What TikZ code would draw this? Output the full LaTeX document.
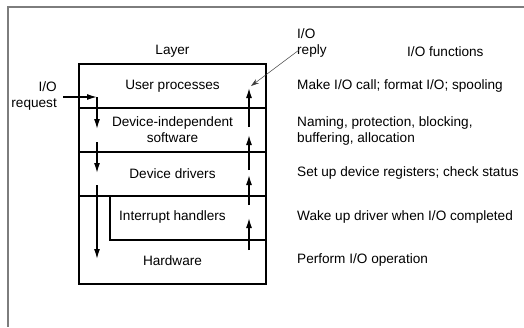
\documentclass[tikz,border=0pt]{standalone}
\usepackage{fontspec}
\setmainfont{Liberation Sans}
\usetikzlibrary{arrows.meta,positioning}
\tikzset{every node/.append style={align=center}}
\definecolor{framegray}{RGB}{125,125,125}
\definecolor{replygray}{RGB}{60,60,60}

\begin{document}
\begin{tikzpicture}[
    x=1pt, y=-1pt,
    font=\fontsize{13.6}{16}\selectfont,
    layer/.style={draw, line width=1.2pt, minimum width=187pt, minimum height=44pt, inner sep=0pt},
    lbl/.style={inner sep=0pt},
    func/.style={inner sep=0pt, anchor=west, align=left},
    flow/.style={-{Latex[length=10pt,width=6pt]}, line width=1.4pt},
    replyarrow/.style={-{Stealth[length=8pt,width=5pt]}, line width=0.5pt, replygray}
]
    \useasboundingbox (0,0) rectangle (524,327);

    % Frame
    \draw[framegray, line width=1.3pt] (524,7) -- (8,7) -- (8,327);

    % Layers
    \node[layer] (user) at (172.5,86) {User processes};
    \node[layer] (devind) at (172.5,130) {Device-independent\\software};
    \node[layer] (drivers) at (172.5,174) {Device drivers};
    \node[layer, minimum height=88pt] (lower) at (172.5,240) {};
    \node[layer, minimum width=156pt] (intrbox) at (188,218) {};
    \node[lbl] (intr) at (172.5,217) {Interrupt handlers};
    \node[lbl] (hw) at (172.5,261) {Hardware};

    % Headings
    \node[lbl] (layerhead) at (172.5,51) {Layer};
    \node[func] (funchead) at (407,52) {I/O functions};

    % Functions
    \node[func] (fuser) at (297,86) {Make I/O call; format I/O; spooling};
    \node[func] (fdevind) at (297,131) {Naming, protection, blocking,\\buffering, allocation};
    \node[func] (fdrivers) at (297,173) {Set up device registers; check status};
    \node[func] (fintr) at (297,217) {Wake up driver when I/O completed};
    \node[func] (fhw) at (297,260) {Perform I/O operation};

    % Side labels
    \node[lbl, anchor=east, align=right] (req) at (57,96) {I/O\\request};
    \node[func] (reply) at (297,43) {I/O\\reply};

    % Arrow points
    \coordinate (r0) at (63,97);
    \coordinate (d0) at (97,97);
    \coordinate (d1) at (97,129);
    \coordinate (d2) at (97,142);
    \coordinate (d3) at (97,173);
    \coordinate (d4) at (97,185);
    \coordinate (d5) at (97,259);
    \coordinate (u0) at (249,250);
    \coordinate (u1) at (249,218);
    \coordinate (u2) at (249,205);
    \coordinate (u3) at (249,175);
    \coordinate (u4) at (249,170);
    \coordinate (u5) at (249,135);
    \coordinate (u6) at (249,127);
    \coordinate (u7) at (249,88);
    \coordinate (q0) at (299,50);
    \coordinate (q1) at (251,86);

    % Arrows
    \draw[flow] (r0) -- (d0);
    \foreach \a/\b in {d0/d1, d2/d3, d4/d5, u0/u1, u2/u3, u4/u5, u6/u7}
        \draw[flow] (\a) -- (\b);
    \draw[replyarrow] (q0) -- (q1);

\end{tikzpicture}
\end{document}
